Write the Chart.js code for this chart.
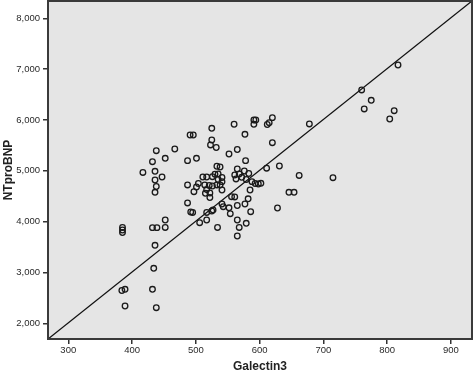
<!DOCTYPE html>
<html>
<head>
<meta charset="utf-8">
<script src="https://cdn.jsdelivr.net/npm/chart.js@4/dist/chart.umd.min.js"></script>
<style>
html,body{margin:0;padding:0;background:#fff;}
#wrap{width:474px;height:374px;}
</style>
</head>
<body>
<div id="wrap"><canvas id="c" width="474" height="374"></canvas></div>
<script>
const galectin3 = [385,385,385,384,389,389,432,438,434,436,432,439,452,452,417,436,436,438,436,447,438,432,452,467,491,496,525,525,523,532,560,591,594,591,612,615,620,577,620,678,565,552,487,501,578,487,487,492,495,533,538,565,611,631,576,583,561,568,572,563,579,588,593,598,602,585,662,715,646,654,628,511,517,526,530,535,541,535,541,504,501,497,514,521,526,533,538,517,515,522,522,541,517,525,527,541,543,552,554,565,577,582,556,561,586,506,517,534,565,568,579,565,760,817,775,764,811,804];
const ntproBNP = [3885,3835,3786,2645,2669,2340,2669,2307,3082,3534,3881,3881,4032,3885,4967,4990,4819,4691,4577,4878,5395,5179,5246,5429,5704,5704,5836,5606,5508,5458,5915,5999,5999,5915,5911,5946,6045,5718,5553,5921,5419,5330,5199,5246,5199,4721,4367,4190,4180,5089,5075,5035,5051,5094,4996,4947,4917,4937,4872,4839,4829,4786,4750,4740,4754,4622,4908,4864,4577,4577,4268,4878,4878,4884,4933,4937,4868,4829,4786,4750,4681,4589,4721,4711,4701,4721,4721,4632,4557,4563,4475,4622,4180,4209,4229,4347,4294,4272,4156,4317,4347,4449,4490,4485,4195,3979,4032,3885,4032,3885,3967,3717,6590,7081,6387,6216,6182,6019];
const xTicks = [300,400,500,600,700,800,900];
const yTicks = [2000,3000,4000,5000,6000,7000,8000];
const xRange = [268.2, 933];
const yRange = [1691, 8340];
const refLine = [{x: xRange[0], y: yRange[0]}, {x: xRange[1], y: yRange[1]}];

const points = galectin3.map((v, i) => ({x: v, y: ntproBNP[i]}));

const framePlugin = {
  id: 'frame',
  beforeDatasetsDraw(chart) {
    const {ctx, chartArea: a} = chart;
    ctx.save();
    ctx.fillStyle = '#e5e5e5';
    ctx.fillRect(a.left, a.top, a.right - a.left, a.bottom - a.top);
    ctx.restore();
  },
  afterDraw(chart) {
    const {ctx, chartArea: a} = chart;
    ctx.save();
    ctx.strokeStyle = '#3a3a3a';
    ctx.lineWidth = 2;
    ctx.strokeRect(a.left, a.top, a.right - a.left, a.bottom - a.top);
    ctx.restore();
  }
};

new Chart(document.getElementById('c'), {
  type: 'scatter',
  data: {
    datasets: [
      {
        type: 'line',
        data: refLine,
        borderColor: '#111',
        borderWidth: 1.3,
        pointRadius: 0,
        fill: false,
        order: 2
      },
      {
        data: points,
        pointStyle: 'circle',
        pointRadius: 2.8,
        pointBorderWidth: 1.3,
        pointBackgroundColor: 'rgba(0,0,0,0)',
        pointBorderColor: '#1a1a1a',
        order: 1
      }
    ]
  },
  options: {
    responsive: false,
    animation: false,
    devicePixelRatio: 1,
    layout: {autoPadding: false, padding: {top: 1, right: 2, left: 0, bottom: 0}},
    plugins: {legend: {display: false}, tooltip: {enabled: false}},
    scales: {
      x: {
        type: 'linear',
        min: xRange[0], max: xRange[1],
        afterBuildTicks: s => { s.ticks = xTicks.map(v => ({value: v})); },
        afterFit: s => { s.height = 35; s.paddingLeft = 0; s.paddingRight = 0; },
        grid: {drawOnChartArea: false, drawTicks: true, tickLength: 5, color: '#333', lineWidth: 1.5},
        border: {display: true, color: '#3a3a3a', width: 2},
        ticks: {color: '#2a2a2a', font: {family: 'Liberation Sans, Arial', size: 9.5}, padding: 1, maxRotation: 0,
          callback: v => String(v)},
        title: {display: true, text: 'Galectin3', color: '#222', font: {family: 'Liberation Sans, Arial', size: 12, weight: 'bold'}, padding: {top: 0, bottom: 0}}
      },
      y: {
        type: 'linear',
        min: yRange[0], max: yRange[1],
        afterBuildTicks: s => { s.ticks = yTicks.map(v => ({value: v})); },
        afterFit: s => { s.width = 48; s.paddingTop = 0; s.paddingBottom = 0; },
        grid: {drawOnChartArea: false, drawTicks: true, tickLength: 5, color: '#333', lineWidth: 1.5},
        border: {display: true, color: '#3a3a3a', width: 2},
        ticks: {color: '#2a2a2a', font: {family: 'Liberation Sans, Arial', size: 9.5}, padding: 3,
          callback: v => Number(v).toLocaleString('en-US')},
        title: {display: true, text: 'NTproBNP', color: '#222', font: {family: 'Liberation Sans, Arial', size: 12, weight: 'bold'}, padding: {top: 1, bottom: 0}}
      }
    }
  },
  plugins: [framePlugin]
});
</script>
</body>
</html>
